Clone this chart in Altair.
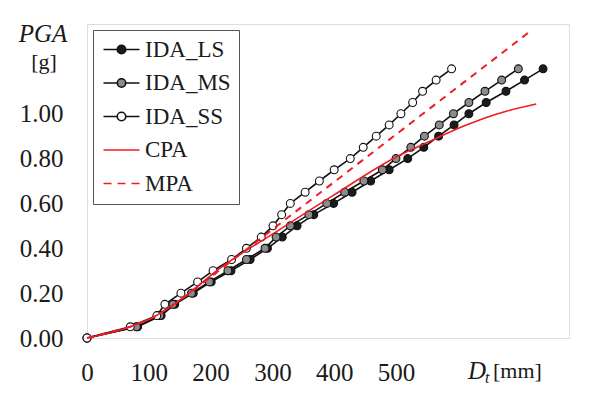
import altair as alt
import pandas as pd

# ---------------- data ----------------
PGA_LEVELS = [0.00, 0.05, 0.10, 0.15, 0.20, 0.25, 0.30, 0.35, 0.40, 0.45, 0.50,
              0.55, 0.60, 0.65, 0.70, 0.75, 0.80, 0.85, 0.90, 0.95, 1.00, 1.05,
              1.10, 1.15, 1.20]
D_LS = [0, 82, 120, 142, 172, 201, 233, 264, 292, 316, 340, 367, 399, 429, 459,
        489, 519, 545, 569, 594, 618, 646, 678, 708, 738]
D_MS = [0, 80, 118, 139, 169, 198, 228, 258, 288, 306, 329, 359, 388, 417, 448,
        478, 500, 524, 546, 570, 593, 618, 644, 671, 698]
D_SS = [0, 70, 113, 126, 152, 179, 204, 234, 258, 282, 301, 315, 329, 353, 376,
        400, 426, 447, 468, 489, 508, 527, 543, 565, 590]

CPA_D = [0, 70, 110, 150, 217, 300, 398, 506, 540, 575, 610, 645, 680, 727]
CPA_PGA = [0.0, 0.05, 0.097, 0.168, 0.315, 0.463, 0.635, 0.815, 0.858, 0.903,
           0.945, 0.982, 1.012, 1.043]

MPA_D = [0, 70, 110, 150, 717]
MPA_PGA = [0.0, 0.05, 0.095, 0.166, 1.367]

SERIES = ["IDA_LS", "IDA_MS", "IDA_SS", "CPA", "MPA"]
X_TICKS = [0, 100, 200, 300, 400, 500]
Y_TICKS = [0.0, 0.2, 0.4, 0.6, 0.8, 1.0]

# ---------------- styling ----------------
FONT = "Liberation Serif"
RED = "#ee1c25"
FILLS = {"IDA_LS": "#1c1c1c", "IDA_MS": "#8c8c8c", "IDA_SS": "#ffffff"}

ida_rows = []
for name, dvals in (("IDA_LS", D_LS), ("IDA_MS", D_MS), ("IDA_SS", D_SS)):
    for i, (d, p) in enumerate(zip(dvals, PGA_LEVELS)):
        ida_rows.append({"series": name, "D": d, "PGA": p, "i": i})
ida = pd.DataFrame(ida_rows)
cpa = pd.DataFrame({"D": CPA_D, "PGA": CPA_PGA})
mpa = pd.DataFrame({"D": MPA_D, "PGA": MPA_PGA})

xenc = alt.X("D:Q", scale=alt.Scale(domain=[0, 780], nice=False, zero=True),
             axis=alt.Axis(values=X_TICKS, title=None, grid=False, ticks=False,
                           domain=False, labelPadding=22, labelFont=FONT,
                           labelFontSize=25, labelColor="#1a1a1a", labelFlush=False))
yenc = alt.Y("PGA:Q", scale=alt.Scale(domain=[0, 1.4], nice=False, zero=True),
             axis=alt.Axis(values=Y_TICKS, format=".2f", title=None, grid=False,
                           ticks=False, domain=False, labelPadding=24, labelFont=FONT,
                           labelFontSize=25, labelColor="#1a1a1a"))

layers = []
# IDA lines
layers.append(alt.Chart(ida).mark_line(color="#111111", strokeWidth=1.6).encode(
    x=xenc, y=yenc, detail="series:N", order="i:Q"))
# IDA markers
for name in ["IDA_LS", "IDA_MS", "IDA_SS"]:
    layers.append(alt.Chart(ida).transform_filter(alt.datum.series == name)
                  .mark_point(filled=True, fill=FILLS[name], stroke="#111111",
                              strokeWidth=1.1, size=62, opacity=1)
                  .encode(x=xenc, y=yenc))
# CPA / MPA
layers.append(alt.Chart(cpa).mark_line(color=RED, strokeWidth=1.6,
                                       interpolate="monotone").encode(x=xenc, y=yenc))
layers.append(alt.Chart(mpa).mark_line(color=RED, strokeWidth=2,
                                       strokeDash=[7, 6]).encode(x=xenc, y=yenc))

# legend (symbols built from the series table)
P_IDA = ("M-2,0L-0.47,0M0.47,0L2,0M0.47,0A0.47,0.47,0,1,1,-0.47,0"
         "A0.47,0.47,0,1,1,0.47,0Z")
P_LINE = "M-2,0L2,0"
P_DASH = "M-2,0L-1.11,0M-0.44,0L0.44,0M1.11,0L2,0"
leg = alt.Legend(title=None, orient="top-left", offset=6, padding=8,
                 fillColor="white", strokeColor="#555555", labelFont=FONT,
                 labelFontSize=23, labelColor="#1a1a1a", symbolSize=324,
                 symbolStrokeWidth=1.6, symbolOffset=9, labelOffset=12,
                 rowPadding=9.5, labelLimit=200,
                 labelExpr="datum.label + '\u00a0\u00a0'")
legend_layer = alt.Chart(pd.DataFrame({"series": SERIES})).transform_filter("false").mark_point(
    strokeWidth=1.6, opacity=1).encode(
    shape=alt.Shape("series:N", scale=alt.Scale(domain=SERIES,
                    range=[P_IDA, P_IDA, P_IDA, P_LINE, P_DASH]), legend=leg),
    fill=alt.Fill("series:N", scale=alt.Scale(domain=SERIES,
                  range=[FILLS["IDA_LS"], FILLS["IDA_MS"], FILLS["IDA_SS"],
                         "transparent", "transparent"]), legend=leg),
    stroke=alt.Stroke("series:N", scale=alt.Scale(domain=SERIES,
                      range=["#111111", "#111111", "#111111", RED, RED]), legend=leg),
)
layers.append(legend_layer)

# axis titles as text
def txt(s, x, y, size, style="normal", align="center"):
    return alt.Chart(pd.DataFrame({"t": [s]})).mark_text(
        font=FONT, fontSize=size, fontStyle=style, align=align, baseline="middle",
        color="#1a1a1a").encode(x=alt.value(x), y=alt.value(y), text="t:N")

layers.append(txt("PGA", -44, 10, 25, "italic"))
layers.append(txt("[g]", -43, 38, 22))
layers.append(txt("D", 381, 347, 25, "italic", "left"))
layers.append(txt("t", 398, 354, 16, "italic", "left"))
layers.append(txt("[mm]", 406, 347, 22, "normal", "left"))

chart = alt.layer(*layers).properties(
    width=482, height=314,
    padding={"left": 79, "top": 16, "right": 20, "bottom": 56},
    autosize=alt.AutoSizeParams(type="none"),
).configure_view(stroke="#8e8e8e", strokeWidth=1.5).configure(background="white")

chart.save("out.html", embed_options={"renderer": "svg", "actions": False})
